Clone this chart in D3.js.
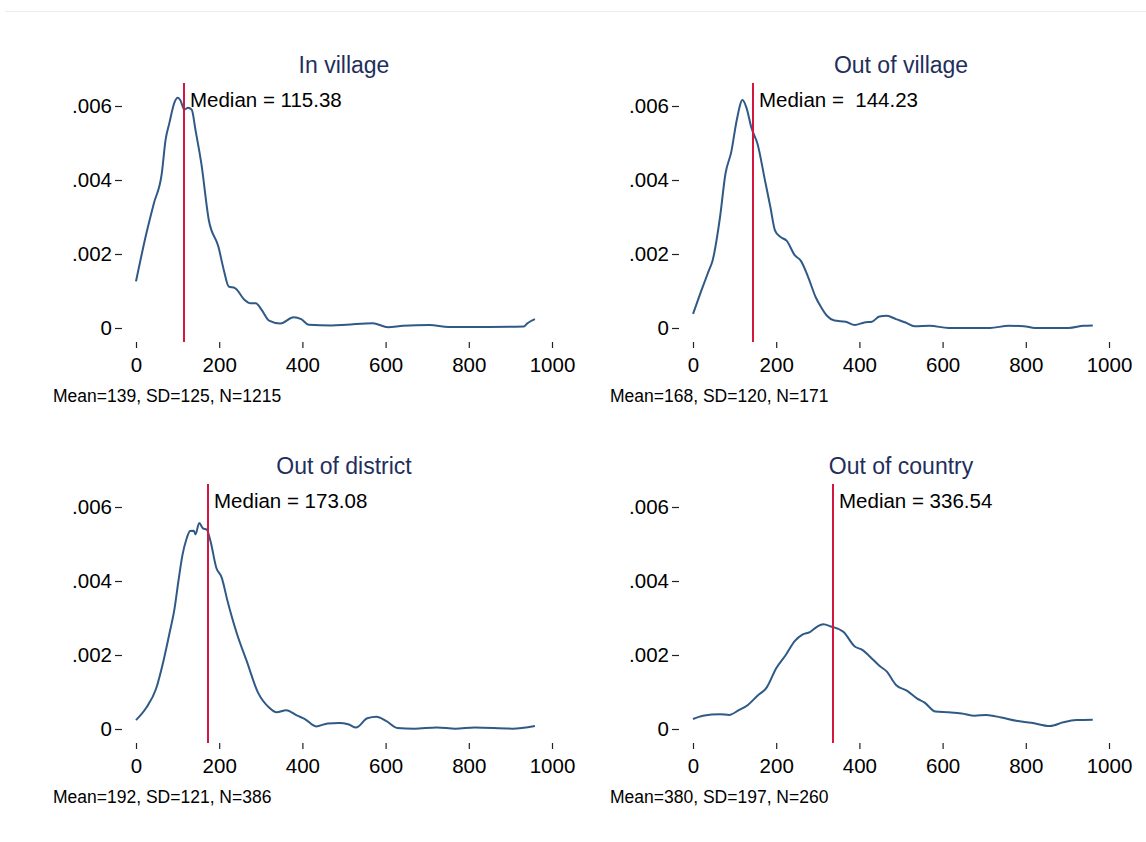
<!DOCTYPE html>
<html>
<head>
<meta charset="utf-8">
<script src="https://cdn.jsdelivr.net/npm/d3@7"></script>
<style>
  body { margin: 0; background: #fff; }
  text { font-family: "Liberation Sans", Arial, Helvetica, sans-serif; }
</style>
</head>
<body>
<script>
// panel titles and summary notes
var titles = ["In village", "Out of village", "Out of district", "Out of country"];
var medians = [115.38, 144.23, 173.08, 336.54];
var medianLabels = ["Median = 115.38", "Median =  144.23", "Median = 173.08", "Median = 336.54"];
var notes = ["Mean=139, SD=125, N=1215", "Mean=168, SD=120, N=171",
             "Mean=192, SD=121, N=386", "Mean=380, SD=197, N=260"];

var xTicks = [0, 200, 400, 600, 800, 1000];
var yTicks = [0, .002, .004, .006];

// kernel density estimates (x in value units, density)
var villageX = [0, 25, 43, 62, 71, 80, 93, 100, 107, 116, 125, 134, 143, 157, 175, 198, 211, 223, 238, 261, 275, 288, 302, 320, 347, 379, 397, 415, 470, 506, 569, 606, 642, 706, 751, 850, 932, 941, 959];
var villageY = [.00126, .00256, .00337, .00418, .00508, .00553, .00611, .00622, .00615, .0059, .00595, .0059, .00535, .00445, .00292, .0022, .00157, .00112, .00108, .00076, .00067, .00067, .00049, .0002, .00012, .00029, .00024, .00009, .00007, .00009, .00013, .00002, .00006, .00008, .00003, .00003, .00004, .00013, .00024];

var outVillageX = [0, 20, 38, 47, 65, 78, 92, 105, 119, 128, 141, 155, 173, 186, 197, 209, 225, 245, 259, 277, 295, 308, 322, 340, 367, 389, 412, 430, 448, 466, 488, 511, 533, 569, 614, 714, 759, 795, 822, 903, 939, 961];
var outVillageY = [.00038, .00101, .00155, .00182, .003, .00417, .00476, .00561, .00616, .00597, .00539, .00498, .00399, .00327, .00264, .00247, .00236, .00196, .00182, .00137, .00083, .00056, .00033, .0002, .00017, .00008, .00015, .00017, .00031, .00033, .00024, .00015, .00005, .00006, 0, 0, .00006, .00005, 0, 0, .00006, .00007];

var districtX = [0, 25, 48, 66, 80, 93, 102, 112, 121, 130, 139, 143, 152, 161, 170, 179, 193, 206, 220, 243, 266, 293, 320, 338, 361, 388, 406, 433, 461, 488, 510, 529, 556, 578, 601, 628, 669, 723, 768, 814, 905, 959];
var districtY = [.00024, .00058, .00108, .00184, .00256, .00328, .004, .00472, .00512, .00535, .00536, .00526, .00557, .00542, .00539, .00508, .00436, .00409, .00346, .00256, .00184, .00099, .00058, .00045, .00051, .00036, .00027, .00007, .00015, .00016, .00013, .00004, .00029, .00033, .00022, .00003, .00001, .00004, .00001, .00004, .00001, .00008];

var countryX = [0, 24, 65, 87, 110, 132, 155, 177, 200, 223, 245, 263, 281, 299, 313, 332, 362, 389, 407, 425, 448, 466, 488, 515, 538, 556, 583, 614, 646, 677, 705, 741, 777, 813, 858, 890, 921, 961];
var countryY = [.00027, .00036, .0004, .00038, .00051, .00065, .0009, .00112, .00164, .002, .00238, .00255, .00262, .00277, .00283, .00277, .00262, .00223, .00214, .00196, .00171, .00155, .00119, .00103, .00083, .00072, .00047, .00045, .00042, .00036, .00038, .00031, .00022, .00017, .00008, .00018, .00024, .00025];

var seriesX = [villageX, outVillageX, districtX, countryX];
var seriesY = [villageY, outVillageY, districtY, countryY];

var width = 1146, height = 842;
var curveColor = "#2f5a87", medianColor = "#d3173f", titleColor = "#1f2f5c";

var svg = d3.select("body").append("svg")
    .attr("width", width)
    .attr("height", height);

// faint rule at the top of the page
svg.append("line")
    .attr("x1", 5).attr("x2", width)
    .attr("y1", 11.5).attr("y2", 11.5)
    .attr("stroke", "#ececec");

// panel origins: top-left of each 2x2 cell
var offsets = [[0, 0], [557, 0], [0, 401], [557, 401]];

function yFormat(d) {
  return d === 0 ? "0" : d3.format(".3f")(d).replace(/^0/, "");
}

function drawPanel(i) {
  var dx = offsets[i][0], dy = offsets[i][1];

  var x = d3.scaleLinear().domain([0, 1000]).range([136 + dx, 552 + dx]);
  var y = d3.scaleLinear().domain([0, .006]).range([328 + dy, 106 + dy]);
  var axisY = 342 + dy;

  var g = svg.append("g");

  // y axis
  var yAxis = g.append("g")
      .attr("transform", "translate(" + (122 + dx) + ",0)")
      .call(d3.axisLeft(y).tickValues(yTicks).tickFormat(yFormat)
        .tickSize(7).tickPadding(3));
  yAxis.select(".domain").remove();

  // x axis
  var xAxis = g.append("g")
      .attr("transform", "translate(0," + axisY + ")")
      .call(d3.axisBottom(x).tickValues(xTicks).tickFormat(d3.format("d"))
        .tickSize(6).tickPadding(9));
  xAxis.select(".domain").remove();

  g.selectAll(".tick line").attr("stroke", "#222").attr("stroke-width", 1.2);
  g.selectAll(".tick text")
      .attr("fill", "#000")
      .style("font-size", "20.5px");

  // density curve
  var pts = d3.zip(seriesX[i], seriesY[i]);
  var line = d3.line()
      .x(function(d) { return x(d[0]); })
      .y(function(d) { return y(d[1]); })
      .curve(d3.curveMonotoneX);

  g.append("path")
      .datum(pts)
      .attr("d", line)
      .attr("fill", "none")
      .attr("stroke", curveColor)
      .attr("stroke-width", 2)
      .attr("stroke-linejoin", "round");

  // median line and label
  var xm = x(medians[i]);
  g.append("line")
      .attr("x1", xm).attr("x2", xm)
      .attr("y1", y(.006) - 23).attr("y2", axisY)
      .attr("stroke", medianColor)
      .attr("stroke-width", 2);

  g.append("text")
      .attr("x", xm + 6)
      .attr("y", y(.006) + 1)
      .style("font-size", "20.5px")
      .attr("fill", "#000")
      .style("white-space", "pre")
      .text(medianLabels[i]);

  // title
  g.append("text")
      .attr("x", (x.range()[0] + x.range()[1]) / 2)
      .attr("y", 73 + dy)
      .attr("text-anchor", "middle")
      .style("font-size", "23px")
      .attr("fill", titleColor)
      .text(titles[i]);

  // note below the axis
  g.append("text")
      .attr("x", 53 + dx)
      .attr("y", 402 + dy)
      .style("font-size", "17.5px")
      .attr("fill", "#000")
      .text(notes[i]);
}

for (var i = 0; i < titles.length; i++) {
  drawPanel(i);
}
</script>
</body>
</html>
